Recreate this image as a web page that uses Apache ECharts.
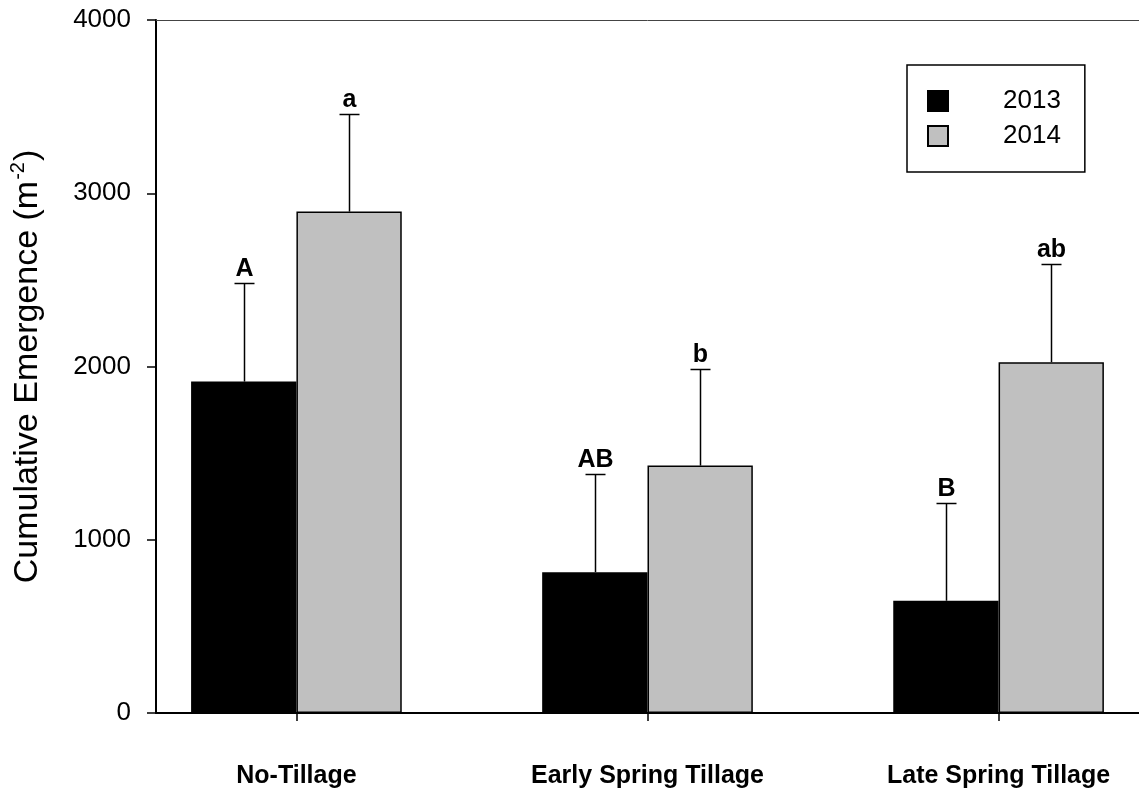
<!DOCTYPE html>
<html>
<head>
<meta charset="utf-8">
<script src="https://cdn.jsdelivr.net/npm/echarts@6/dist/echarts.min.js"></script>
<style>
  html, body { margin: 0; padding: 0; background: #fff; }
  #chart { width: 1139px; height: 793px; }
</style>
</head>
<body>
<div id="chart"></div>
<script>
// Tillage treatments and seasons
const categories = ['No-Tillage', 'Early Spring Tillage', 'Late Spring Tillage'];
const years = ['2013', '2014'];

// Mean cumulative emergence (plants m^-2) and upper error
const emergence2013 = [1913, 813, 648];
const emergence2014 = [2894, 1428, 2025];
const err2013 = [568, 566, 563];
const err2014 = [563, 560, 565];

// Mean separation letters
const letters2013 = ['A', 'AB', 'B'];
const letters2014 = ['a', 'b', 'ab'];

// Value axis ticks
const yTicks = [0, 1000, 2000, 3000, 4000];

const FONT = "'Liberation Sans', Arial, Helvetica, sans-serif";
const BAR_FRACTION = 0.30;

function errorBars(values, errs, letters, side) {
  return {
    type: 'custom',
    z: 5,
    silent: true,
    data: values.map((v, i) => [i, v, v + errs[i]]),
    renderItem(params, api) {
      const i = api.value(0);
      const band = api.size([1, 0])[0];
      const dx = side * band * BAR_FRACTION / 2;
      const base = api.coord([i, api.value(1)]);
      const top = api.coord([i, api.value(2)]);
      const x = Math.round(base[0] + dx) + 0.5;
      const yt = Math.round(top[1]) + 0.5;
      return {
        type: 'group',
        children: [
          { type: 'line', shape: { x1: x, y1: base[1], x2: x, y2: yt },
            style: { stroke: '#000', lineWidth: 1.5 } },
          { type: 'line', shape: { x1: x - 10, y1: yt, x2: x + 10, y2: yt },
            style: { stroke: '#000', lineWidth: 1.5 } },
          { type: 'text', x: x, y: yt - 2,
            style: { text: letters[params.dataIndex], fill: '#000',
                     font: 'bold 25px ' + FONT, align: 'center', verticalAlign: 'bottom' } }
        ]
      };
    }
  };
}

const chart = echarts.init(document.getElementById('chart'));
chart.setOption({
  animation: false,
  backgroundColor: '#fff',
  grid: { left: 156, right: 0, top: 20, bottom: 80 },
  legend: {
    data: years,
    orient: 'vertical',
    left: 907,
    top: 65,
    icon: 'rect',
    itemWidth: 20,
    itemHeight: 20,
    itemGap: 9,
    padding: [23, 24, 23, 20],
    borderColor: '#000',
    borderWidth: 1.5,
    textStyle: { fontSize: 26, lineHeight: 20, color: '#000', fontFamily: FONT, padding: [0, 0, 0, 50] }
  },
  xAxis: [
    {
      type: 'value',
      min: -0.4,
      max: 2.4,
      position: 'bottom',
      axisLine: { show: true, onZero: false, lineStyle: { color: '#000', width: 2 } },
      axisTick: { show: true, length: 8, customValues: [0, 1, 2], lineStyle: { color: '#000', width: 1.5 } },
      axisLabel: {
        customValues: [0, 1, 2],
        formatter: v => categories[Math.round(v)],
        margin: 51,
        color: '#000',
        fontSize: 25,
        fontWeight: 'bold',
        fontFamily: FONT
      },
      splitLine: { show: false }
    },
    {
      type: 'value',
      min: -0.4,
      max: 2.4,
      position: 'top',
      axisLine: { show: true, onZero: false, lineStyle: { color: '#444', width: 1 } },
      axisTick: { show: false },
      axisLabel: { show: false },
      splitLine: { show: false }
    }
  ],
  yAxis: {
    type: 'value',
    min: yTicks[0],
    max: yTicks[yTicks.length - 1],
    interval: yTicks[1] - yTicks[0],
    axisLine: { show: true, onZero: false, lineStyle: { color: '#000', width: 2 } },
    axisTick: { show: true, length: 9, lineStyle: { color: '#000', width: 1.5 } },
    axisLabel: { margin: 25, color: '#000', fontSize: 26, fontFamily: FONT, formatter: v => String(v) },
    splitLine: { show: false },
    name: '{t|Cumulative Emergence (m}{s|-2}{t|)}',
    nameLocation: 'middle',
    nameRotate: 90,
    nameGap: 108,
    nameTextStyle: {
      color: '#000',
      fontFamily: FONT,
      rich: {
        t: { fontSize: 34, fontFamily: FONT, color: '#000', lineHeight: 40 },
        s: { fontSize: 20, fontFamily: FONT, color: '#000', verticalAlign: 'top', padding: [0, 1, 0, 1] }
      }
    }
  },
  series: [
    {
      name: years[0],
      type: 'bar',
      barWidth: (BAR_FRACTION * 100) + '%',
      barGap: '0%',
      data: emergence2013.map((v, i) => [i, v]),
      itemStyle: { color: '#000', borderColor: '#000', borderWidth: 1.5 }
    },
    {
      name: years[1],
      type: 'bar',
      barWidth: (BAR_FRACTION * 100) + '%',
      barGap: '0%',
      data: emergence2014.map((v, i) => [i, v]),
      itemStyle: { color: '#c0c0c0', borderColor: '#000', borderWidth: 1.5 }
    },
    errorBars(emergence2013, err2013, letters2013, -1),
    errorBars(emergence2014, err2014, letters2014, 1)
  ]
});
</script>
</body>
</html>
